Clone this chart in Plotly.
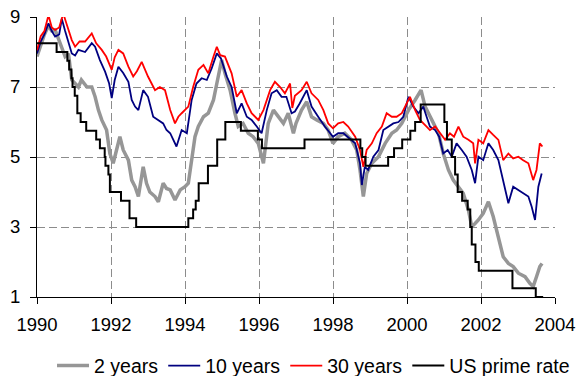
import plotly.graph_objects as go

# ---- data (decimal years, percent) ----
y2_t = [1990.00, 1990.10, 1990.20, 1990.31, 1990.40, 1990.49, 1990.62, 1990.70, 1990.76, 1990.85,
        1990.94, 1991.03, 1991.12, 1991.20, 1991.35, 1991.48, 1991.57, 1991.66, 1991.75, 1991.88,
        1991.97, 1992.06, 1992.15, 1992.24, 1992.33, 1992.47, 1992.56, 1992.65, 1992.74, 1992.87,
        1992.96, 1993.05, 1993.19, 1993.28, 1993.41, 1993.50, 1993.60, 1993.73, 1993.87, 1994.00,
        1994.09, 1994.18, 1994.27, 1994.36, 1994.50, 1994.63, 1994.77, 1994.86, 1994.99, 1995.08,
        1995.22, 1995.35, 1995.44, 1995.57, 1995.71, 1995.84, 1995.98, 1996.12, 1996.25, 1996.39,
        1996.52, 1996.66, 1996.79, 1996.93, 1997.00, 1997.15, 1997.29, 1997.42, 1997.56, 1997.74,
        1997.87, 1998.00, 1998.14, 1998.32, 1998.50, 1998.64, 1998.73, 1998.82, 1998.91, 1999.05,
        1999.23, 1999.41, 1999.59, 1999.72, 1999.86, 2000.04, 2000.22, 2000.38, 2000.49, 2000.67,
        2000.85, 2000.98, 2001.12, 2001.25, 2001.39, 2001.52, 2001.66, 2001.75, 2001.84, 2001.93,
        2002.06, 2002.20, 2002.33, 2002.47, 2002.60, 2002.74, 2002.87, 2003.01, 2003.19, 2003.32,
        2003.41, 2003.50, 2003.59, 2003.65]
y2_v = [7.87, 8.20, 8.50, 8.75, 8.60, 8.63, 8.25, 8.00, 7.87, 7.95,
        7.20, 7.10, 7.00, 7.20, 7.00, 7.00, 6.72, 6.34, 6.06, 5.77,
        5.10, 4.82, 5.20, 5.58, 5.20, 4.91, 4.34, 4.15, 3.87, 4.72,
        4.25, 4.00, 3.87, 3.72, 4.25, 4.10, 4.06, 3.77, 4.06, 4.15,
        4.25, 4.91, 5.58, 5.87, 6.15, 6.25, 6.63, 7.10, 7.77, 7.39,
        6.91, 6.25, 5.87, 5.96, 5.68, 5.58, 5.39, 4.82, 5.96, 6.34,
        6.15, 5.96, 6.25, 5.68, 5.96, 6.34, 6.58, 6.15, 6.06, 5.96,
        5.77, 5.39, 5.58, 5.68, 5.49, 5.20, 4.63, 3.87, 4.53, 4.82,
        5.01, 5.39, 5.68, 5.77, 5.96, 6.34, 6.63, 6.91, 6.44, 6.06,
        5.68, 5.10, 4.63, 4.34, 4.15, 3.96, 3.49, 3.01, 3.10, 3.20,
        3.39, 3.72, 3.30, 2.72, 2.15, 1.96, 1.87, 1.68, 1.58, 1.39,
        1.30, 1.58, 1.87, 1.96]

y10_t = [1990.00, 1990.10, 1990.20, 1990.31, 1990.40, 1990.49, 1990.60, 1990.67, 1990.76, 1990.85,
         1990.94, 1991.03, 1991.12, 1991.30, 1991.48, 1991.57, 1991.70, 1991.84, 1991.95, 1992.02,
         1992.10, 1992.20, 1992.33, 1992.47, 1992.56, 1992.65, 1992.74, 1992.87, 1993.00, 1993.14,
         1993.28, 1993.41, 1993.50, 1993.60, 1993.77, 1993.91, 1994.05, 1994.18, 1994.31, 1994.45,
         1994.59, 1994.72, 1994.86, 1994.97, 1995.13, 1995.26, 1995.40, 1995.53, 1995.67, 1995.80,
         1995.94, 1996.07, 1996.21, 1996.34, 1996.48, 1996.61, 1996.74, 1996.88, 1996.97, 1997.10,
         1997.29, 1997.42, 1997.60, 1997.78, 1998.00, 1998.14, 1998.28, 1998.46, 1998.60, 1998.73,
         1998.78, 1998.86, 1998.95, 1999.09, 1999.23, 1999.36, 1999.50, 1999.63, 1999.77, 1999.90,
         2000.04, 2000.17, 2000.31, 2000.44, 2000.53, 2000.62, 2000.76, 2000.87, 2000.98, 2001.10,
         2001.21, 2001.34, 2001.48, 2001.61, 2001.75, 2001.84, 2001.93, 2002.06, 2002.20, 2002.33,
         2002.47, 2002.60, 2002.74, 2002.87, 2003.01, 2003.14, 2003.28, 2003.37, 2003.46, 2003.55,
         2003.64]
y10_v = [7.96, 8.30, 8.50, 8.82, 8.60, 8.44, 8.50, 8.95, 8.60, 8.30,
         7.96, 7.90, 8.06, 8.00, 8.25, 8.15, 7.77, 7.44, 7.10, 6.68,
         7.20, 7.58, 7.40, 7.15, 6.63, 6.44, 6.34, 6.91, 6.72, 6.15,
         6.06, 5.96, 5.77, 5.68, 5.30, 5.77, 5.68, 6.63, 7.10, 7.25,
         7.20, 7.53, 7.96, 7.82, 7.30, 7.00, 6.25, 6.53, 6.15, 6.06,
         5.87, 5.68, 6.34, 6.82, 6.91, 6.72, 6.72, 6.25, 6.30, 6.53,
         6.91, 6.44, 6.15, 5.87, 5.58, 5.68, 5.68, 5.53, 5.39, 4.82,
         4.20, 4.72, 4.63, 5.01, 5.20, 5.77, 5.87, 5.96, 6.00, 6.15,
         6.72, 6.44, 6.25, 6.44, 6.15, 5.87, 5.77, 5.58, 5.10, 5.20,
         5.01, 5.39, 5.20, 5.01, 4.63, 4.25, 5.01, 4.91, 5.39, 5.20,
         4.91, 4.34, 3.68, 4.15, 4.06, 3.96, 3.87, 3.58, 3.20, 4.15,
         4.53]

y30_t = [1990.00, 1990.10, 1990.20, 1990.31, 1990.40, 1990.49, 1990.60, 1990.71, 1990.80, 1990.94,
         1991.03, 1991.15, 1991.30, 1991.48, 1991.60, 1991.75, 1991.87, 1992.02, 1992.10, 1992.20,
         1992.33, 1992.47, 1992.60, 1992.70, 1992.83, 1993.00, 1993.19, 1993.32, 1993.46, 1993.50,
         1993.60, 1993.73, 1993.82, 1993.91, 1994.09, 1994.22, 1994.36, 1994.50, 1994.63, 1994.77,
         1994.86, 1994.95, 1995.08, 1995.26, 1995.40, 1995.53, 1995.67, 1995.80, 1995.98, 1996.12,
         1996.30, 1996.43, 1996.57, 1996.70, 1996.84, 1996.90, 1996.97, 1997.15, 1997.29, 1997.42,
         1997.60, 1997.74, 1997.87, 1998.00, 1998.14, 1998.28, 1998.41, 1998.60, 1998.73, 1998.82,
         1998.91, 1999.05, 1999.18, 1999.32, 1999.45, 1999.59, 1999.72, 1999.86, 1999.99, 2000.08,
         2000.22, 2000.35, 2000.53, 2000.62, 2000.76, 2000.89, 2001.03, 2001.16, 2001.27, 2001.39,
         2001.52, 2001.66, 2001.79, 2001.84, 2001.93, 2002.06, 2002.20, 2002.33, 2002.47, 2002.60,
         2002.74, 2002.87, 2003.01, 2003.14, 2003.28, 2003.41, 2003.50, 2003.59, 2003.66]
y30_v = [8.05, 8.45, 8.60, 9.05, 8.70, 8.63, 8.70, 9.10, 8.80, 8.34,
         8.15, 8.30, 8.30, 8.53, 8.25, 8.06, 7.87, 7.49, 7.85, 8.06,
         7.96, 7.58, 7.30, 7.45, 7.72, 7.30, 6.91, 7.00, 6.91, 6.72,
         6.34, 5.96, 6.15, 6.25, 6.44, 7.00, 7.49, 7.63, 7.39, 7.87,
         8.15, 7.91, 7.87, 7.39, 6.72, 6.91, 6.53, 6.25, 6.06, 6.34,
         6.91, 7.15, 7.00, 6.82, 7.10, 6.40, 6.75, 6.91, 7.15, 6.82,
         6.63, 6.34, 5.96, 5.82, 5.96, 6.00, 5.87, 5.58, 5.20, 4.72,
         5.20, 5.39, 5.68, 5.87, 6.25, 6.15, 6.15, 6.25, 6.53, 6.72,
         6.34, 6.06, 5.87, 5.77, 5.87, 5.68, 5.49, 5.68, 5.58, 5.87,
         5.58, 5.49, 5.39, 4.82, 5.49, 5.39, 5.77, 5.63, 5.49, 4.91,
         5.10, 4.96, 5.01, 4.91, 4.82, 4.34, 4.63, 5.39, 5.30]

prime_t = [1990.00, 1990.53, 1990.82, 1990.87, 1990.93, 1990.96, 1991.02, 1991.09, 1991.18, 1991.33,
           1991.60, 1991.70, 1991.83, 1991.85, 1991.93, 1991.97, 1992.27, 1992.50, 1992.68, 1994.09,
           1994.22, 1994.29, 1994.37, 1994.62, 1994.87, 1995.09, 1995.51, 1995.97, 1996.08, 1997.23,
           1998.74, 1998.79, 1998.88, 1999.49, 1999.65, 1999.87, 2000.09, 2000.22, 2000.37, 2001.01,
           2001.08, 2001.21, 2001.30, 2001.37, 2001.49, 2001.64, 2001.71, 2001.75, 2001.85, 2001.94,
           2002.85, 2003.48, 2003.68]
prime_v = [8.25, 8.00, 7.75, 7.50, 7.25, 7.00, 6.75, 6.25, 6.00, 5.75,
           5.50, 5.25, 5.00, 4.75, 4.50, 4.00, 3.75, 3.25, 3.00, 3.25,
           3.50, 3.75, 4.25, 4.75, 5.50, 6.00, 5.75, 5.50, 5.25, 5.50,
           5.25, 5.00, 4.75, 5.00, 5.25, 5.50, 5.75, 6.00, 6.50, 6.00,
           5.50, 5.00, 4.50, 4.00, 3.75, 3.50, 3.00, 2.50, 2.00, 1.75,
           1.25, 1.00, 1.00]

x_ticks = [1990, 1992, 1994, 1996, 1998, 2000, 2002, 2004]
y_ticks = [1, 3, 5, 7, 9]

FONT = "Liberation Sans, Arial, sans-serif"

fig = go.Figure()
fig.add_trace(go.Scatter(x=y2_t, y=y2_v, mode="lines", name="2 years",
                         line=dict(color="#969696", width=3.5)))
fig.add_trace(go.Scatter(x=y10_t, y=y10_v, mode="lines", name="10 years",
                         line=dict(color="#000080", width=1.8)))
fig.add_trace(go.Scatter(x=y30_t, y=y30_v, mode="lines", name="30 years",
                         line=dict(color="#ff0000", width=1.8)))
fig.add_trace(go.Scatter(x=prime_t, y=prime_v, mode="lines", name="US prime rate",
                         line=dict(color="#000000", width=2, shape="hv")))

axis_common = dict(
    showgrid=True, gridcolor="#8c8c8c", gridwidth=1, griddash="8px,4px",
    showline=True, linecolor="#000000", linewidth=1,
    ticks="outside", ticklen=6, tickcolor="#000000", tickwidth=1,
    zeroline=False, automargin=False,
    tickfont=dict(family=FONT, size=18.5, color="#000000"),
)
fig.update_xaxes(range=[1990, 2004], tickmode="array", tickvals=x_ticks,
                 ticktext=[str(v) for v in x_ticks], ticklabelstandoff=5, **axis_common)
fig.update_yaxes(range=[1, 9], tickmode="array", tickvals=y_ticks,
                 ticktext=[str(v) for v in y_ticks], ticklabelstandoff=6, **axis_common)

fig.update_layout(
    width=576, height=376,
    margin=dict(l=37, r=21, t=17, b=79, autoexpand=False),
    paper_bgcolor="#ffffff", plot_bgcolor="#ffffff",
    font=dict(family=FONT, size=19, color="#000000"),
    showlegend=True,
    legend=dict(orientation="h", x=0.029, xanchor="left", y=-0.246, yanchor="middle",
                font=dict(family=FONT, size=19.5), bgcolor="rgba(0,0,0,0)",
                itemwidth=32, tracegroupgap=0),
)

fig.write_html("out.html", config={"displayModeBar": False},
               post_script="document.body.style.margin='0px';document.body.style.overflow='hidden';")
